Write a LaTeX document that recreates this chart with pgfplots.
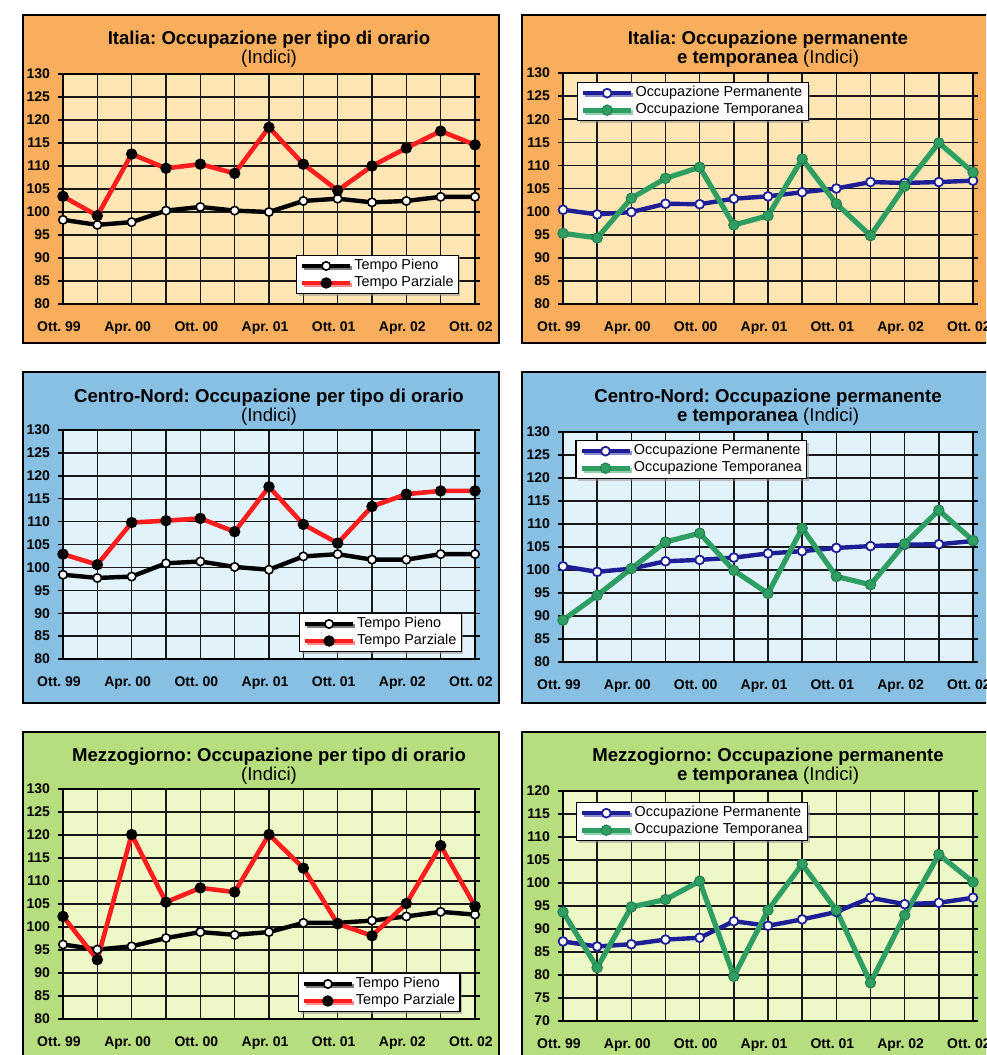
\documentclass[border=0pt]{standalone}
\usepackage{pgfplots}
\pgfplotsset{compat=1.18}
\usepackage{pgfplotstable}
\usepackage{fontspec}
\setmainfont{Liberation Sans}
\usetikzlibrary{shadows}
\frenchspacing

\definecolor{orFrame}{HTML}{F8AE5C}
\definecolor{orPlot}{HTML}{FFE6B4}
\definecolor{blFrame}{HTML}{88C0E4}
\definecolor{blPlot}{HTML}{E2F2FA}
\definecolor{grFrame}{HTML}{B6DE7E}
\definecolor{grPlot}{HTML}{EDF8C6}
\definecolor{redL}{HTML}{FF1E1E}
\definecolor{blueL}{HTML}{1E1E96}
\definecolor{greenL}{HTML}{2E9E62}

% x: 0 = Ott. 99 ... 12 = Ott. 02 (quarterly)
\pgfplotstableread{
x pieno parziale
0 98.3 103.4
1 97.2 99.2
2 97.8 112.6
3 100.3 109.5
4 101.1 110.4
5 100.3 108.4
6 100.0 118.4
7 102.4 110.4
8 102.9 104.7
9 102.1 110.0
10 102.4 113.9
11 103.3 117.6
12 103.3 114.6
}\itOrario
\pgfplotstableread{
x perm temp
0 100.4 95.3
1 99.4 94.3
2 99.9 102.9
3 101.7 107.2
4 101.6 109.6
5 102.8 97.1
6 103.3 99.1
7 104.2 111.4
8 105.0 101.7
9 106.4 94.8
10 106.2 105.5
11 106.4 114.9
12 106.7 108.5
}\itPerm
\pgfplotstableread{
x pieno parziale
0 98.4 102.9
1 97.7 100.6
2 98.0 109.8
3 100.9 110.2
4 101.3 110.7
5 100.1 107.8
6 99.5 117.6
7 102.4 109.4
8 102.9 105.3
9 101.7 113.3
10 101.7 116.0
11 102.9 116.7
12 102.9 116.7
}\cnOrario
\pgfplotstableread{
x perm temp
0 100.8 89.1
1 99.6 94.5
2 100.3 100.3
3 101.9 106.1
4 102.2 108.0
5 102.7 99.9
6 103.6 94.9
7 104.1 109.1
8 104.8 98.6
9 105.2 96.8
10 105.5 105.7
11 105.6 113.0
12 106.3 106.4
}\cnPerm
\pgfplotstableread{
x pieno parziale
0 96.2 102.3
1 95.1 92.9
2 95.8 120.1
3 97.6 105.4
4 98.9 108.5
5 98.3 107.6
6 98.9 120.1
7 100.9 112.8
8 100.9 100.7
9 101.4 98.1
10 102.3 105.1
11 103.3 117.7
12 102.7 104.5
}\mzOrario
\pgfplotstableread{
x perm temp
0 87.3 93.7
1 86.2 81.6
2 86.7 94.8
3 87.7 96.4
4 88.1 100.4
5 91.7 79.7
6 90.7 94.1
7 92.1 104.1
8 93.7 94.1
9 96.8 78.3
10 95.4 93.0
11 95.7 106.2
12 96.8 100.2
}\mzPerm

\pgfplotsset{
  panel/.style={
    scale only axis, anchor=south west,
    xmin=0, xmax=12, ymin=80, ymax=130,
    xtick={0,...,12},
    xticklabels={Ott. 99,,Apr. 00,,Ott. 00,,Apr. 01,,Ott. 01,,Apr. 02,,Ott. 02},
    ytick={80,85,...,130},
    xmajorgrids, ymajorgrids,
    grid style={black!90, line width=0.8pt},
    axis line style={black, line width=0.9pt},
    x tick style={draw=none},
    y tick style={black, line width=0.7pt},
    tick align=outside, major tick length=2.5pt,
    /pgf/number format/assume math mode=true,
    tick label style={font=\bfseries\fontsize{7}{8}\selectfont},
    xticklabel style={yshift=-3pt, xshift=-2pt},
    yticklabel style={xshift=-0.5pt},
    legend style={font=\fontsize{7.2}{8}\selectfont, draw=black, line width=0.6pt,
      fill=white, inner xsep=1.5pt, inner ysep=1pt,
      drop shadow={shadow xshift=1pt, shadow yshift=-1pt, fill=black!45},
      nodes={inner sep=0.9pt}, cells={anchor=west}},
    legend image code/.code={%
      \draw[mark repeat=2,mark phase=2,#1] plot coordinates {(0pt,0pt) (12pt,0pt) (24pt,0pt)};},
  },
  pieno/.style={black, line width=2.2pt, mark=*, mark size=2.1pt,
    mark options={fill=white, draw=black, line width=0.8pt}},
  parziale/.style={redL, line width=2.3pt, mark=*, mark size=2.6pt,
    mark options={fill=black, draw=black, line width=0.5pt}},
  perm/.style={blueL, line width=2.2pt, mark=*, mark size=2.2pt,
    mark options={fill=white, draw=blueL, line width=0.9pt}},
  temp/.style={greenL, line width=2.6pt, mark=*, mark size=2.6pt,
    mark options={fill=greenL, draw=greenL!80!black, line width=0.5pt}},
}

\begin{document}
\begin{tikzpicture}
\useasboundingbox (0pt,0pt) rectangle (493pt,-527.5pt);
\clip (0pt,0pt) rectangle (493pt,-527.5pt);
\fill[white] (0pt,0pt) rectangle (493pt,-527.5pt);

% panel frames
\filldraw[fill=orFrame, draw=black, line width=1.2pt] (11.5pt,-7.5pt) rectangle (249.5pt,-171.5pt);
\filldraw[fill=orFrame, draw=black, line width=1.2pt] (261pt,-7.5pt) rectangle (500pt,-171.5pt);
\filldraw[fill=blFrame, draw=black, line width=1.2pt] (11.5pt,-186pt) rectangle (249.5pt,-351.5pt);
\filldraw[fill=blFrame, draw=black, line width=1.2pt] (261pt,-186pt) rectangle (500pt,-351.5pt);
\filldraw[fill=grFrame, draw=black, line width=1.2pt] (11.5pt,-366pt) rectangle (249.5pt,-540pt);
\filldraw[fill=grFrame, draw=black, line width=1.2pt] (261pt,-366pt) rectangle (500pt,-540pt);

% titles
\begin{scope}[every node/.style={font=\fontsize{9.3}{10}\selectfont, anchor=base, inner sep=0pt}]
\node at (134.5pt,-22pt) {\bfseries Italia: Occupazione per tipo di orario};
\node at (134.5pt,-31.5pt) {(Indici)};
\node at (384pt,-22pt) {\bfseries Italia: Occupazione permanente};
\node at (384pt,-31.5pt) {{\bfseries e temporanea} (Indici)};
\node at (134.5pt,-201pt) {\bfseries Centro-Nord: Occupazione per tipo di orario};
\node at (134.5pt,-210.5pt) {(Indici)};
\node at (384pt,-201pt) {\bfseries Centro-Nord: Occupazione permanente};
\node at (384pt,-210.5pt) {{\bfseries e temporanea} (Indici)};
\node at (134.5pt,-380.5pt) {\bfseries Mezzogiorno: Occupazione per tipo di orario};
\node at (134.5pt,-390pt) {(Indici)};
\node at (384pt,-380.5pt) {\bfseries Mezzogiorno: Occupazione permanente};
\node at (384pt,-390pt) {{\bfseries e temporanea} (Indici)};
\end{scope}

% Italia - orario
\begin{axis}[panel, at={(31.5pt,-152pt)}, width=206pt, height=115pt,
  axis background/.style={fill=orPlot},
  legend style={at={(0.961,0.043)}, anchor=south east}]
\addplot[pieno] table[x=x,y=pieno] {\itOrario};
\addplot[parziale] table[x=x,y=parziale] {\itOrario};
\legend{Tempo Pieno, Tempo Parziale}
\end{axis}

% Italia - permanente
\begin{axis}[panel, at={(281.5pt,-152pt)}, width=205pt, height=115.5pt,
  axis background/.style={fill=orPlot},
  legend style={at={(0.034,0.961)}, anchor=north west}]
\addplot[perm] table[x=x,y=perm] {\itPerm};
\addplot[temp] table[x=x,y=temp] {\itPerm};
\legend{Occupazione Permanente, Occupazione Temporanea}
\end{axis}

% Centro-Nord - orario
\begin{axis}[panel, at={(31.5pt,-329.5pt)}, width=206pt, height=114.5pt,
  axis background/.style={fill=blPlot},
  legend style={at={(0.968,0.03)}, anchor=south east}]
\addplot[pieno] table[x=x,y=pieno] {\cnOrario};
\addplot[parziale] table[x=x,y=parziale] {\cnOrario};
\legend{Tempo Pieno, Tempo Parziale}
\end{axis}

% Centro-Nord - permanente
\begin{axis}[panel, at={(281.5pt,-331pt)}, width=205pt, height=115pt,
  axis background/.style={fill=blPlot},
  legend style={at={(0.03,0.965)}, anchor=north west}]
\addplot[perm] table[x=x,y=perm] {\cnPerm};
\addplot[temp] table[x=x,y=temp] {\cnPerm};
\legend{Occupazione Permanente, Occupazione Temporanea}
\end{axis}

% Mezzogiorno - orario
\begin{axis}[panel, at={(31.5pt,-509.5pt)}, width=206pt, height=115pt,
  axis background/.style={fill=grPlot},
  legend style={at={(0.965,0.03)}, anchor=south east}]
\addplot[pieno] table[x=x,y=pieno] {\mzOrario};
\addplot[parziale] table[x=x,y=parziale] {\mzOrario};
\legend{Tempo Pieno, Tempo Parziale}
\end{axis}

% Mezzogiorno - permanente
\begin{axis}[panel, at={(281.5pt,-510.5pt)}, width=205pt, height=115pt,
  ymin=70, ymax=120, ytick={70,75,...,120},
  axis background/.style={fill=grPlot},
  legend style={at={(0.032,0.952)}, anchor=north west}]
\addplot[perm] table[x=x,y=perm] {\mzPerm};
\addplot[temp] table[x=x,y=temp] {\mzPerm};
\legend{Occupazione Permanente, Occupazione Temporanea}
\end{axis}
\end{tikzpicture}
\end{document}
